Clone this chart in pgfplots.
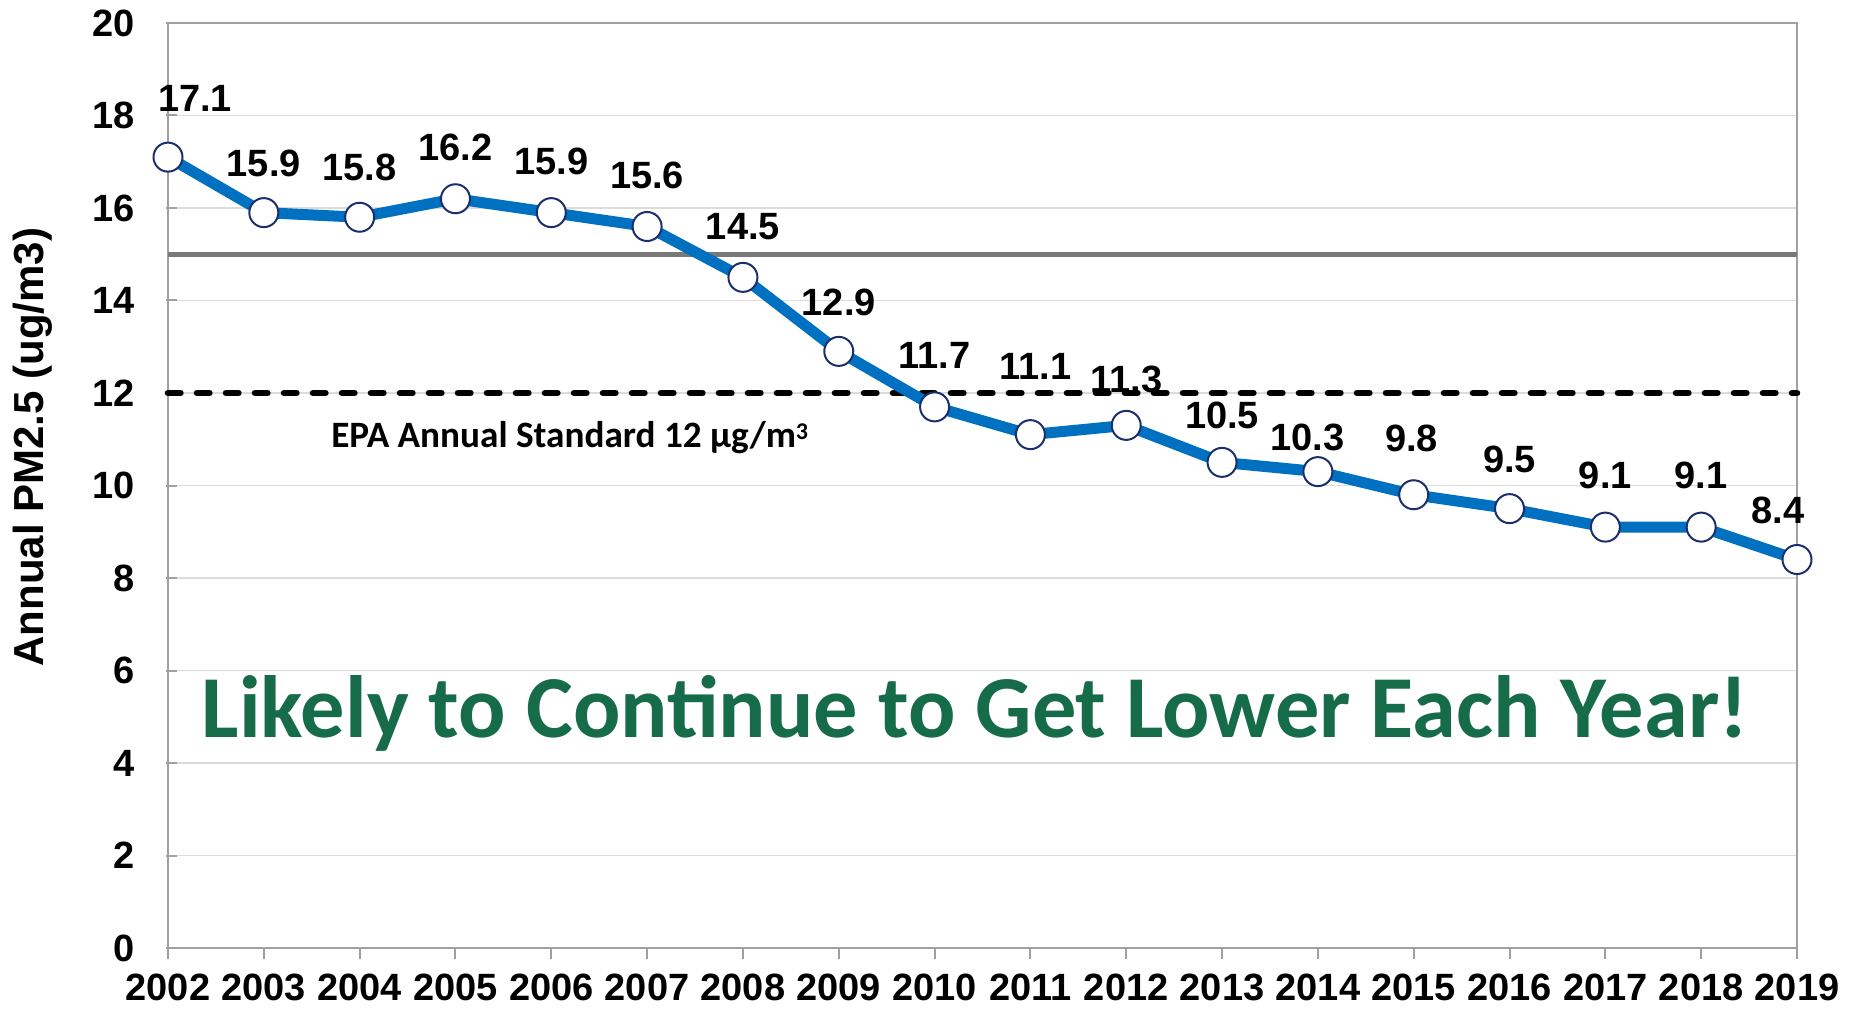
\documentclass[border=0pt]{standalone}
\usepackage{pgfplots}
\pgfplotsset{compat=1.18}
\usepackage{fontspec}
\setmainfont{Liberation Sans}
\newfontfamily\calibri{Carlito}
\definecolor{lineblue}{HTML}{0070C0}
\definecolor{navy}{HTML}{1A2F6B}
\definecolor{txtgreen}{HTML}{166B49}
\definecolor{axgray}{HTML}{A0A0A0}
\definecolor{gridgray}{HTML}{DCDCDC}
\begin{document}
\begin{tikzpicture}
\useasboundingbox (-84pt,-30pt) rectangle (845pt,474pt);
\begin{axis}[
  at={(0,0)}, anchor=south west,
  scale only axis, width=814.5pt, height=462.5pt,
  xmin=2002, xmax=2019, ymin=0, ymax=20,
  xtick={2002,2003,...,2019}, ytick={0,2,...,20},
  /pgf/number format/1000 sep={},
  /pgf/number format/assume math mode=true,
  tick pos=left,
  tick align=outside, major tick length=5.5pt,
  ytick style={axgray, line width=1pt, xshift=4.5pt},
  xtick style={axgray, line width=1pt},
  axis line style={axgray, line width=1pt},
  ymajorgrids, grid style={gridgray, line width=0.6pt},
  tick label style={font=\bfseries\fontsize{19}{19}\selectfont},
  yticklabel style={anchor=east, xshift=-7.5pt},
  xticklabel style={anchor=north, yshift=-4pt},
  every axis y label/.style={at={(axis description cs:-0.0829,0.5416)}, rotate=90, anchor=center},
  ylabel={\bfseries\fontsize{21}{21}\selectfont Annual PM2.5 (ug/m3)},
  clip=false,
]
\addplot[color=gray!95!black, line width=2.6pt, forget plot] coordinates {(2002,15) (2019,15)};
\addplot[color=black, line width=3.3pt, line cap=round, dash pattern=on 6.2pt off 8.3pt, forget plot] coordinates {(2002,12) (2019,12)};
\addplot[
  color=lineblue, line width=5.5pt,
  mark=*, mark size=7.25pt,
  mark options={fill=white, draw=navy, line width=1pt},
  visualization depends on={\thisrow{dx} \as \dx},
  visualization depends on={\thisrow{dy} \as \dy},
  point meta=explicit,
  nodes near coords={\pgfmathprintnumber[fixed, fixed zerofill, precision=1]{\pgfplotspointmeta}},
  nodes near coords style={font=\bfseries\fontsize{19}{19}\selectfont, text=black, anchor=south, inner sep=0pt, xshift=\dx pt, yshift=17.5pt+\dy pt},
] table[x=x, y=y, meta=y] {
x y dx dy
2002 17.1 13.5 5
2003 15.9 0 0
2004 15.8 0 0
2005 16.2 0 1
2006 15.9 0 1
2007 15.6 0 1
2008 14.5 0 1
2009 12.9 0 0
2010 11.7 0 1
2011 11.1 2.5 9.5
2012 11.3 0 -2
2013 10.5 0 -1
2014 10.3 -5.3 -7.7
2015 9.8 -1 3.5
2016 9.5 0 0
2017 9.1 0 1
2018 9.1 0 1
2019 8.4 -9.5 0
};
\node[anchor=base west, inner sep=0pt, font=\calibri\bfseries\fontsize{18.6}{18.6}\selectfont] at (axis cs:2003.70,10.82) {EPA Annual Standard 12 µg/m\raisebox{0.45ex}{\fontsize{12}{12}\selectfont 3}};
\node[anchor=base, inner sep=0pt, text=txtgreen, font=\calibri\bfseries\fontsize{44.2}{44.2}\selectfont] at (axis cs:2010.42,4.56) {Likely to Continue to Get Lower Each Year!};
\end{axis}
\end{tikzpicture}
\end{document}
